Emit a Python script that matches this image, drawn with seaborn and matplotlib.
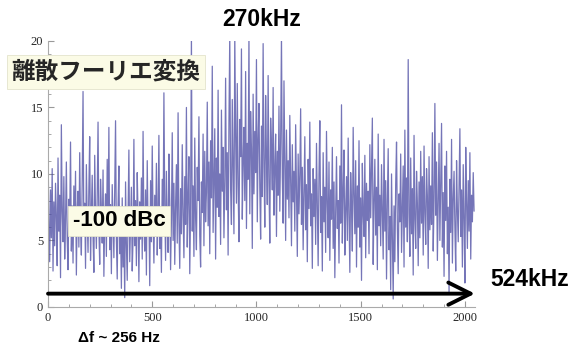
import numpy as np
import matplotlib
matplotlib.use("Agg")
import matplotlib.pyplot as plt
import seaborn as sns
from matplotlib.ticker import MultipleLocator

# DFT magnitude, one value every 4 bins (block by block)
block0 = [12.3, 6.1, 3.4, 8.8, 5.2, 10.4, 2.7, 7.9, 4.6, 9.3, 6.8, 3.1, 11.2, 5.7, 8.4, 2.2,
          13.7, 7.2, 4.9, 9.8, 3.6, 6.5, 10.9, 5.1, 2.8, 8.1, 6.3, 12.4, 4.2, 7.6, 3.3, 9.1,
          5.8, 10.2, 2.4, 7.3, 8.7, 4.5, 11.6, 6.2, 3.9, 9.5, 16.2, 5.4, 7.8, 2.9, 10.7, 6.6,
          4.1, 8.9, 12.8, 3.5, 7.1, 9.9, 5.3, 2.6, 11.4, 6.9, 4.4, 8.3, 13.9, 5.9, 3.2, 9.6]
block1 = [7.4, 4.8, 10.3, 2.3, 6.7, 8.5, 3.8, 11.1, 5.5, 13.5, 4.3, 7.7, 2.5, 9.2, 6.4, 3.7,
          8.6, 14.0, 5.0, 2.1, 7.5, 10.6, 4.0, 6.0, 1.4, 8.2, 3.0, 5.6, 0.7, 9.4, 4.7, 2.0,
          7.0, 11.8, 3.4, 6.3, 9.0, 2.7, 5.2, 12.6, 4.6, 8.0, 3.1, 10.1, 6.8, 1.9, 7.9, 5.1,
          9.7, 3.6, 13.2, 6.1, 4.2, 8.8, 2.4, 11.0, 5.9, 7.3, 1.6, 9.5, 4.9, 12.1, 6.6, 3.3]
block2 = [8.4, 5.3, 10.8, 3.9, 7.2, 12.9, 4.4, 6.9, 2.6, 9.6, 5.8, 16.1, 7.7, 3.5, 10.2, 6.0,
          4.1, 11.5, 8.1, 2.8, 6.5, 13.1, 5.0, 9.3, 3.2, 7.6, 10.7, 4.8, 14.6, 6.3, 2.9, 8.9,
          5.5, 12.2, 7.0, 3.7, 9.8, 6.2, 15.0, 4.5, 8.3, 11.3, 2.5, 7.4, 20.5, 5.7, 9.1, 3.8,
          12.7, 6.7, 4.3, 10.5, 8.0, 14.3, 5.4, 3.0, 9.4, 7.1, 13.0, 4.6, 11.7, 6.4, 8.6, 15.4]
block3 = [6.1, 10.9, 4.0, 12.5, 8.2, 18.1, 5.6, 9.7, 13.4, 3.6, 11.2, 7.5, 16.3, 6.8, 10.0, 4.7,
          14.8, 8.7, 12.0, 5.2, 9.4, 17.2, 7.3, 11.6, 3.9, 13.8, 20.5, 8.9, 6.2, 15.6, 10.4, 5.5,
          20.5, 12.9, 7.8, 16.8, 9.1, 4.9, 14.1, 11.3, 19.4, 6.6, 10.8, 13.5, 8.0, 17.7, 5.9, 12.3,
          9.6, 20.5, 7.0, 14.7, 11.9, 4.4, 16.0, 8.5, 13.2, 10.1, 18.6, 6.4, 12.6, 15.3, 9.0, 5.1]
block4 = [13.6, 8.3, 19.8, 10.6, 6.0, 15.9, 11.4, 7.7, 17.4, 9.3, 4.8, 14.2, 12.1, 8.8, 16.5, 6.9,
          10.3, 13.0, 5.3, 11.7, 8.4, 15.1, 7.2, 12.4, 20.5, 9.8, 6.3, 17.0, 10.7, 5.0, 13.3, 8.1,
          11.0, 6.7, 14.4, 9.5, 4.6, 12.2, 7.9, 10.2, 5.7, 13.7, 8.6, 3.8, 11.5, 7.0, 9.9, 14.9,
          6.2, 10.5, 4.3, 8.7, 12.8, 5.8, 9.2, 3.4, 11.1, 7.4, 13.9, 6.1, 8.5, 2.9, 10.4, 6.8]
block5 = [9.6, 4.7, 12.3, 7.5, 3.1, 10.0, 14.0, 5.6, 8.3, 2.7, 11.6, 6.4, 9.0, 4.1, 13.2, 7.8,
          5.2, 10.9, 3.5, 8.8, 6.6, 12.0, 4.4, 9.4, 2.2, 7.1, 11.3, 5.9, 8.0, 3.3, 10.6, 6.3,
          15.2, 4.8, 8.6, 11.8, 3.9, 7.3, 9.8, 5.0, 12.7, 6.9, 2.6, 10.1, 7.7, 4.2, 13.5, 8.4,
          5.5, 11.0, 3.0, 9.1, 6.0, 12.5, 4.5, 8.2, 2.0, 10.8, 7.0, 5.3, 11.4, 3.7, 9.3, 6.5]
block6 = [8.7, 4.0, 12.2, 6.7, 10.3, 14.2, 3.2, 7.9, 11.1, 5.4, 9.0, 2.8, 13.0, 6.1, 8.4, 4.6,
          10.7, 7.2, 3.6, 12.6, 5.7, 9.5, 2.1, 8.0, 11.9, 4.3, 6.8, 1.3, 10.0, 5.1, 0.6, 7.6,
          3.4, 9.2, 12.4, 5.9, 2.5, 8.5, 6.4, 11.5, 4.1, 7.4, 10.6, 3.0, 13.3, 6.0, 9.7, 4.9,
          18.6, 7.0, 3.8, 11.2, 5.5, 8.9, 2.4, 12.9, 6.6, 4.4, 10.2, 7.8, 3.1, 9.4, 5.2, 11.7]
block7 = [6.3, 9.8, 3.9, 12.1, 7.1, 4.7, 10.4, 8.3, 2.9, 11.3, 5.8, 9.1, 6.2, 13.1, 4.2, 8.0,
          15.3, 6.9, 10.9, 3.5, 7.7, 12.3, 5.0, 9.3, 13.8, 4.5, 8.6, 2.3, 10.6, 6.5, 11.7, 4.0,
          7.5, 1.0, 9.6, 5.6, 12.6, 3.3, 8.1, 10.2, 6.0, 2.7, 11.0, 7.3, 4.9, 9.0, 13.4, 5.3,
          8.8, 3.0, 10.7, 6.7, 1.8, 12.0, 7.9, 4.4, 9.5, 5.7, 11.6, 3.6, 8.4, 6.4, 10.1, 7.2]

magnitude = np.array(block0 + block1 + block2 + block3 + block4 + block5 + block6 + block7)
bins = np.arange(len(magnitude)) * 4
noise_floor = 1.0  # the -100 dBc level
n_bins = 2048

sns.set_style("ticks")
plt.rcParams['font.family'] = ['Liberation Serif', 'DejaVu Serif']

fig = plt.figure(figsize=(5.73, 3.5), dpi=100)
ax = fig.add_axes([0.0838, 0.123, 0.745, 0.760])

sns.lineplot(x=bins, y=magnitude, ax=ax, color='#4747a0', lw=0.9, alpha=0.75)

# thick black arrow along the noise floor
ax.annotate('', xy=(n_bins, noise_floor), xytext=(0, noise_floor),
            arrowprops=dict(arrowstyle='->', color='black', lw=2.8,
                            mutation_scale=40, shrinkA=0, shrinkB=0),
            annotation_clip=False)

ax.set_xlim(0, n_bins)
ax.set_ylim(0, 20)
ax.xaxis.set_major_locator(MultipleLocator(500))
ax.xaxis.set_minor_locator(MultipleLocator(100))
ax.yaxis.set_major_locator(MultipleLocator(5))
ax.yaxis.set_minor_locator(MultipleLocator(1))
ax.tick_params(which='both', direction='in', color='#999999', labelsize=9)
ax.tick_params(which='major', length=4)
ax.tick_params(which='minor', length=2)
for s in ['top', 'right']:
    ax.spines[s].set_visible(False)
for s in ['left', 'bottom']:
    ax.spines[s].set_color('#aaaaaa')
    ax.spines[s].set_linewidth(0.8)

bold = dict(family=['Liberation Sans', 'DejaVu Sans'], weight='bold', color='black')
fig.text(262 / 573, 1 - 19 / 350, '270kHz', ha='center', va='center', fontsize=16.5, **bold)
fig.text(490 / 573, 1 - 279 / 350, '524kHz', ha='left', va='center', fontsize=16.5, **bold)
fig.text(119 / 573, 1 - 338 / 350, 'Δf ~ 256 Hz', ha='center', va='center', fontsize=11, **bold)

box = dict(boxstyle='square,pad=0.2', facecolor='#fbfbe6', edgecolor='#e4e4cc', lw=0.6)
fig.text(106 / 573, 1 - 72 / 350, '離散フーリエ変換', ha='center', va='center', fontsize=17,
         family=['Noto Sans CJK JP', 'DejaVu Sans'], weight='bold', bbox=box)
fig.text(119 / 573, 1 - 221 / 350, '-100 dBc', ha='center', va='center', fontsize=16,
         bbox=box, **bold)

fig.savefig('out.png', dpi=100)
